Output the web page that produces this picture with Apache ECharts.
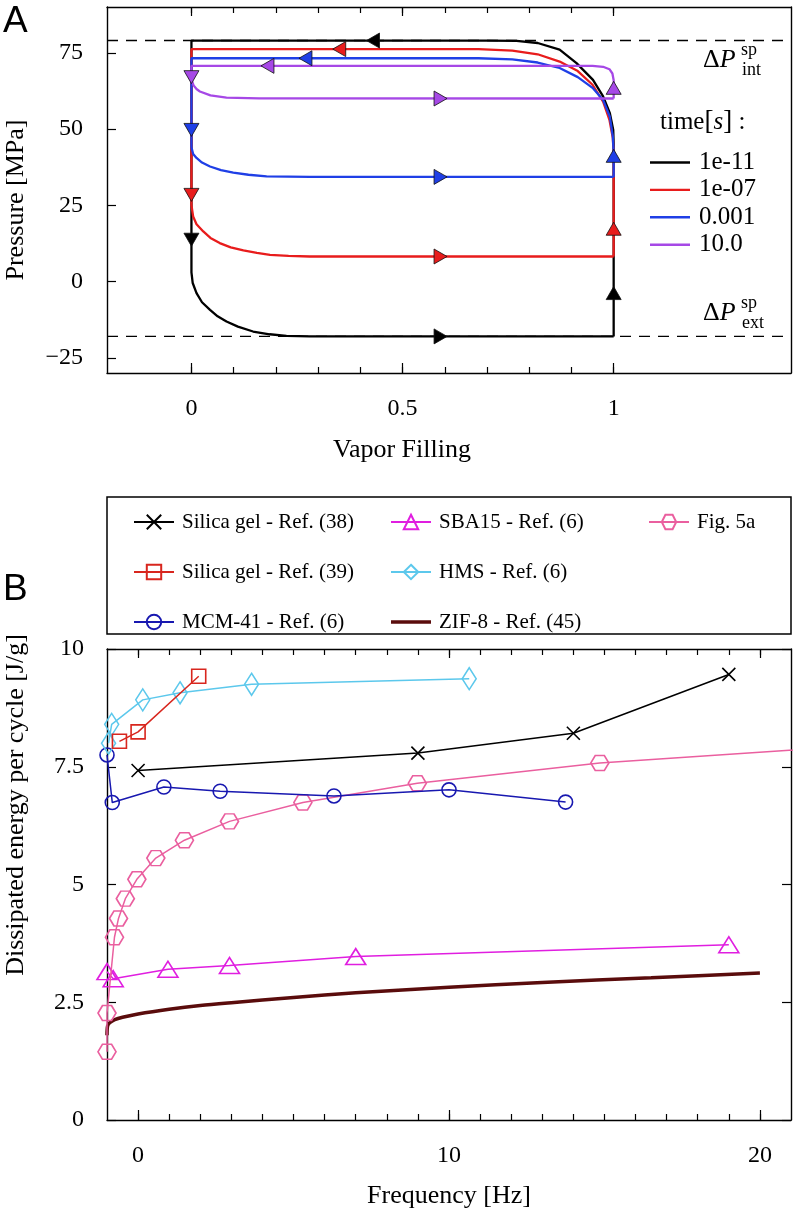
<!DOCTYPE html>
<html><head><meta charset="utf-8">
<script src="https://cdn.jsdelivr.net/npm/echarts@6/dist/echarts.min.js"></script>
<style>html,body{margin:0;padding:0;background:#fff}#c{width:793px;height:1219px}</style>
</head><body><div id="c"></div>
<script>
// ---------------- Panel A data ----------------
const timeLabels = ['1e-11', '1e-07', '0.001', '10.0'];
const spInt = 79;      // ΔP_int^sp level
const spExt = -18;     // ΔP_ext^sp level
const loopBlack = [[1,-18],[1,45],[0.999,49.7],[0.991,55.2],[0.975,60.7],[0.951,66.1],[0.912,71.6],[0.872,76],[0.82,78.2],[0.77,78.9],[0.7,79],
  [0,79],[0,3],[0.003,-0.5],[0.012,-3.8],[0.025,-6.8],[0.044,-9.3],[0.062,-11.4],[0.083,-13.1],[0.11,-14.8],[0.146,-16.4],[0.185,-17.3],[0.225,-17.8],[0.28,-18],[1,-18]];
const loopRed = [[1,8.2],[1,42],[0.998,47],[0.99,53],[0.975,59],[0.95,64.5],[0.915,69],[0.872,72.1],[0.82,74.5],[0.76,75.7],[0.68,76.2],
  [0,76.2],[0,25],[0.004,21.3],[0.012,18.8],[0.028,16.4],[0.045,14.3],[0.067,12.6],[0.093,11.2],[0.123,10.2],[0.155,9.4],[0.186,8.75],[0.23,8.4],[0.28,8.2],[1,8.2]];
const loopBlue = [[1,34.3],[1,42],[0.998,47.5],[0.991,54],[0.975,59.5],[0.95,63.5],[0.915,67],[0.872,70],[0.82,71.8],[0.76,72.8],[0.68,73.2],
  [0,73.2],[0,44],[0.004,41.8],[0.012,40.5],[0.025,39],[0.044,37.7],[0.07,36.5],[0.099,35.7],[0.135,35],[0.178,34.5],[0.28,34.3],[1,34.3]];
const loopPurple = [[1,60],[1,66],[0.997,68.2],[0.99,69.6],[0.975,70.4],[0.95,70.7],
  [0,70.7],[0,66.3],[0.005,64.3],[0.012,63.1],[0.02,62.3],[0.045,61],[0.083,60.3],[0.16,60.05],[1,60]];
// flow arrows: [x, y, direction]
const arrowsBlack  = [[0.43,79,'left'],[0,13.7,'down'],[0.59,-18,'right'],[1,-3.8,'up']];
const arrowsRed    = [[0.35,76.2,'left'],[0,28.4,'down'],[0.59,8.2,'right'],[1,17.3,'up']];
const arrowsBlue   = [[0.27,73.2,'left'],[0,49.7,'down'],[0.59,34.3,'right'],[1,41.2,'up']];
const arrowsPurple = [[0.18,70.7,'left'],[0,67,'down'],[0.59,60,'right'],[1,63.5,'up']];
const aXMinorTicks = [0,0.1,0.2,0.3,0.4,0.5,0.6,0.7,0.8,0.9,1];
const aXLabels = [0, 0.5, 1];
const aYTicks = [-25, 0, 25, 50, 75];

// ---------------- Panel B data ----------------
const seriesNamesB = ['Silica gel - Ref. (38)','Silica gel - Ref. (39)','MCM-41 - Ref. (6)','SBA15 - Ref. (6)','HMS - Ref. (6)','ZIF-8 - Ref. (45)','Fig. 5a'];
const sg38  = [[0,7.42],[9,7.79],[14,8.21],[19,9.46]];
const sg39  = [[-0.6,8.04],[0,8.24],[1.95,9.42]];
const mcm41 = [[-1.0,7.75],[-0.83,6.74],[0.83,7.07],[2.64,6.98],[6.3,6.88],[10,7.01],[13.75,6.75]];
const sba15 = [[-1.0,3.15],[-0.8,3.0],[0.96,3.2],[2.94,3.28],[7.0,3.47],[19,3.72]];
const hms   = [[-0.95,8.0],[-0.85,8.4],[0.15,8.92],[1.35,9.07],[3.65,9.25],[10.65,9.37]];
const zif8  = [[-1,1.8],[-0.98,2.0],[-0.9,2.07],[-0.75,2.13],[-0.5,2.18],[0,2.25],[1,2.35],[2,2.43],[3,2.49],[5,2.6],[7,2.7],[10,2.82],[13,2.92],[16.5,3.02],[20,3.12]];
const fig5a = [[-1.0,1.45],[-1.0,2.27],[-0.76,3.88],[-0.63,4.28],[-0.41,4.70],[-0.04,5.11],[0.57,5.56],[1.49,5.94],[2.94,6.34],[5.3,6.74],[8.98,7.15],[14.85,7.58],[25,8.03]];
const bXMinorTicks = [0,1,2,3,4,5,6,7,8,9,10,11,12,13,14,15,16,17,18,19,20];
const bXLabels = [0, 10, 20];

// ---------------- styling ----------------
const SERIF = "'Liberation Serif', 'DejaVu Serif', serif";
const SANS = "'Liberation Sans', Arial, sans-serif";
const dirRot = {up: 0, left: 90, down: 180, right: -90};
const colA = ['#000000', '#e81c1c', '#1f3fe6', '#a648e6'];
const CROSS = 'path://M0,0L10,10M10,0L0,10';
const HEX = 'path://M-1,0L-0.5,-0.866L0.5,-0.866L1,0L0.5,0.866L-0.5,0.866Z';
const BAR_A = 'path://M0,0L40,0L40,2.4L0,2.4Z';
const BAR_Z = 'path://M0,0L40,0L40,3.6L0,3.6Z';
const T = 'rgba(0,0,0,0)';

function xAx(grid, min, max, pos, ticks, len, labels, line) {
  return {
    type: 'value', gridIndex: grid, min: min, max: max, position: pos,
    axisLine: {show: line, onZero: false, lineStyle: {color: '#000', width: 1.4}},
    axisTick: {show: true, inside: true, length: len, customValues: ticks, lineStyle: {color: '#000', width: 1.2}},
    axisLabel: labels ? {show: true, customValues: labels, margin: 24, color: '#000', fontSize: 24, fontFamily: SERIF,
      formatter: v => String(v)} : {show: false},
    splitLine: {show: false}
  };
}

const chart = echarts.init(document.getElementById('c'), null, {renderer: 'canvas', width: 793, height: 1219});

const loops = [loopBlack, loopRed, loopBlue, loopPurple];
const arrows = [arrowsBlack, arrowsRed, arrowsBlue, arrowsPurple];

const series = [];
// dashed spinodal lines
[spInt, spExt].forEach(v => series.push({
  type: 'line', xAxisIndex: 0, yAxisIndex: 0, data: [[-0.2, v], [1.42, v]], symbol: 'none', silent: true, z: 1,
  lineStyle: {color: '#000', width: 1.4, type: [11, 8]}
}));
loops.forEach((d, i) => series.push({
  name: timeLabels[i], type: 'line', xAxisIndex: 0, yAxisIndex: 0, data: d, symbol: 'none', z: 2 + i,
  lineStyle: {color: colA[i], width: 2.3}, itemStyle: {color: colA[i]}
}));
arrows.forEach((d, i) => series.push({
  type: 'scatter', xAxisIndex: 0, yAxisIndex: 0, symbol: 'triangle', symbolSize: [15, 13], z: 10,
  data: d.map(a => ({value: [a[0], a[1]], symbolRotate: dirRot[a[2]]})),
  itemStyle: {color: colA[i], borderColor: '#111', borderWidth: 0.8, opacity: 1}
}));

function bLine(name, data, color, symbol, size, z) {
  return {
    name: name, type: 'line', xAxisIndex: 4, yAxisIndex: 2, data: data, symbol: symbol, symbolSize: size,
    showSymbol: true, showAllSymbol: true, z: z,
    lineStyle: {color: color, width: 1.5},
    itemStyle: {color: T, borderColor: color, borderWidth: 1.6}
  };
}
series.push({
  name: seriesNamesB[5], type: 'line', xAxisIndex: 4, yAxisIndex: 2, data: zif8, symbol: 'none', smooth: 0.3, z: 3,
  lineStyle: {color: '#5a0c0c', width: 3.5}, itemStyle: {color: '#5a0c0c'}
});
series.push(bLine(seriesNamesB[3], sba15, '#e01ee0', 'triangle', [20, 16], 4));
series.push(bLine(seriesNamesB[6], fig5a, '#ea5f9f', HEX, [18, 15], 5));
series.push(bLine(seriesNamesB[2], mcm41, '#1818b0', 'circle', 14, 6));
series.push(bLine(seriesNamesB[0], sg38, '#000000', CROSS, 13, 7));
series.push(bLine(seriesNamesB[4], hms, '#5cc8ec', 'diamond', [14, 22], 8));
series.push(bLine(seriesNamesB[1], sg39, '#d8261e', 'rect', 14, 9));

function legendB(items, left) {
  return {
    data: items, orient: 'vertical', left: left, top: 506, itemWidth: 40, itemHeight: 18, itemGap: 28,
    selectedMode: false, symbolKeepAspect: true,
    textStyle: {fontFamily: SERIF, fontSize: 21, color: '#000', lineHeight: 22, padding: [0, 0, 0, 3]}
  };
}

const option = {
  animation: false,
  backgroundColor: '#fff',
  grid: [
    {left: 107, right: 2, top: 7, bottom: 846, containLabel: false},
    {left: 107, right: 2, top: 649, bottom: 99, containLabel: false}
  ],
  xAxis: [
    xAx(0, -0.2, 1.42, 'bottom', aXMinorTicks, 6, aXLabels, true),
    xAx(0, -0.2, 1.42, 'bottom', aXLabels, 10, null, false),
    xAx(0, -0.2, 1.42, 'top', aXMinorTicks, 6, null, true),
    xAx(0, -0.2, 1.42, 'top', aXLabels, 9, null, false),
    xAx(1, -1, 21, 'bottom', bXMinorTicks, 6, bXLabels, true),
    xAx(1, -1, 21, 'bottom', bXLabels, 10, null, false),
    xAx(1, -1, 21, 'top', bXMinorTicks, 6, null, true),
    xAx(1, -1, 21, 'top', bXLabels, 9, null, false)
  ],
  yAxis: [
    {type: 'value', gridIndex: 0, min: -30, max: 90, position: 'left',
      axisLine: {show: true, onZero: false, lineStyle: {color: '#000', width: 1.4}},
      axisTick: {show: true, inside: true, length: 9, customValues: aYTicks, lineStyle: {color: '#000', width: 1.2}},
      axisLabel: {show: true, customValues: aYTicks, margin: 24, color: '#000', fontSize: 24, fontFamily: SERIF,
        formatter: v => (v < 0 ? '\u2212' + Math.abs(v) : String(v))},
      splitLine: {show: false}},
    {type: 'value', gridIndex: 0, min: -30, max: 90, position: 'right',
      axisLine: {show: true, onZero: false, lineStyle: {color: '#000', width: 1.4}},
      axisTick: {show: false}, axisLabel: {show: false}, splitLine: {show: false}},
    {type: 'value', gridIndex: 1, min: 0, max: 10, interval: 2.5, position: 'left',
      axisLine: {show: true, onZero: false, lineStyle: {color: '#000', width: 1.4}},
      axisTick: {show: true, inside: true, length: 9, lineStyle: {color: '#000', width: 1.2}},
      axisLabel: {show: true, margin: 23, color: '#000', fontSize: 24, fontFamily: SERIF, formatter: v => String(v)},
      splitLine: {show: false}},
    {type: 'value', gridIndex: 1, min: 0, max: 10, interval: 2.5, position: 'right',
      axisLine: {show: true, onZero: false, lineStyle: {color: '#000', width: 1.4}},
      axisTick: {show: true, inside: true, length: 9, lineStyle: {color: '#000', width: 1.2}},
      axisLabel: {show: false}, splitLine: {show: false}}
  ],
  legend: [
    {data: timeLabels.map(n => ({name: n, icon: BAR_A})), orient: 'vertical', left: 645, top: 145,
      itemWidth: 40, itemHeight: 14, itemGap: 2.4, selectedMode: false, symbolKeepAspect: true,
      textStyle: {fontFamily: SERIF, fontSize: 25, color: '#000', lineHeight: 25, padding: [0, 0, 0, 4]}},
    legendB([seriesNamesB[0], seriesNamesB[1], seriesNamesB[2]], 128),
    legendB([seriesNamesB[3], seriesNamesB[4], {name: seriesNamesB[5], icon: BAR_Z}], 385),
    legendB([seriesNamesB[6]], 643)
  ],
  graphic: [
    {type: 'rect', shape: {x: 107, y: 497, width: 684, height: 137}, style: {fill: 'none', stroke: '#000', lineWidth: 1.5}, z: 0},
    {type: 'text', x: 3, y: 22, style: {text: 'A', fontSize: 37, fontFamily: SANS, fill: '#000', textAlign: 'left', textVerticalAlign: 'middle'}},
    {type: 'text', x: 3, y: 590, style: {text: 'B', fontSize: 37, fontFamily: SANS, fill: '#000', textAlign: 'left', textVerticalAlign: 'middle'}},
    {type: 'text', x: 16, y: 200, rotation: Math.PI / 2, style: {text: 'Pressure [MPa]', fontSize: 26, fontFamily: SERIF, fill: '#000', textAlign: 'center', textVerticalAlign: 'middle'}},
    {type: 'text', x: 402, y: 450, style: {text: 'Vapor Filling', fontSize: 26, fontFamily: SERIF, fill: '#000', textAlign: 'center', textVerticalAlign: 'middle'}},
    {type: 'text', x: 16, y: 805, rotation: Math.PI / 2, style: {text: 'Dissipated energy per cycle [J/g]', fontSize: 26, fontFamily: SERIF, fill: '#000', textAlign: 'center', textVerticalAlign: 'middle'}},
    {type: 'text', x: 449, y: 1196, style: {text: 'Frequency [Hz]', fontSize: 26, fontFamily: SERIF, fill: '#000', textAlign: 'center', textVerticalAlign: 'middle'}},
    {type: 'text', x: 660, y: 122, style: {text: 'time{i|[}{it|s}{i|]} :', fontSize: 25, fontFamily: SERIF, fill: '#000', textAlign: 'left', textVerticalAlign: 'middle',
      rich: {i: {fontSize: 27, fontFamily: SERIF}, it: {fontSize: 25, fontFamily: SERIF, fontStyle: 'italic'}}}},
    // ΔP_int^sp
    {type: 'text', x: 703, y: 60, style: {text: '\u0394{p|P}', fontSize: 26, fontFamily: SERIF, fill: '#000', textVerticalAlign: 'middle', rich: {p: {fontSize: 26, fontFamily: SERIF, fontStyle: 'italic'}}}},
    {type: 'text', x: 741, y: 50, style: {text: 'sp', fontSize: 18, fontFamily: SERIF, fill: '#000', textVerticalAlign: 'middle'}},
    {type: 'text', x: 742, y: 70, style: {text: 'int', fontSize: 18, fontFamily: SERIF, fill: '#000', textVerticalAlign: 'middle'}},
    // ΔP_ext^sp
    {type: 'text', x: 703, y: 313, style: {text: '\u0394{p|P}', fontSize: 26, fontFamily: SERIF, fill: '#000', textVerticalAlign: 'middle', rich: {p: {fontSize: 26, fontFamily: SERIF, fontStyle: 'italic'}}}},
    {type: 'text', x: 741, y: 303, style: {text: 'sp', fontSize: 18, fontFamily: SERIF, fill: '#000', textVerticalAlign: 'middle'}},
    {type: 'text', x: 742, y: 323, style: {text: 'ext', fontSize: 18, fontFamily: SERIF, fill: '#000', textVerticalAlign: 'middle'}}
  ],
  series: series
};
chart.setOption(option);
</script>
</body></html>
